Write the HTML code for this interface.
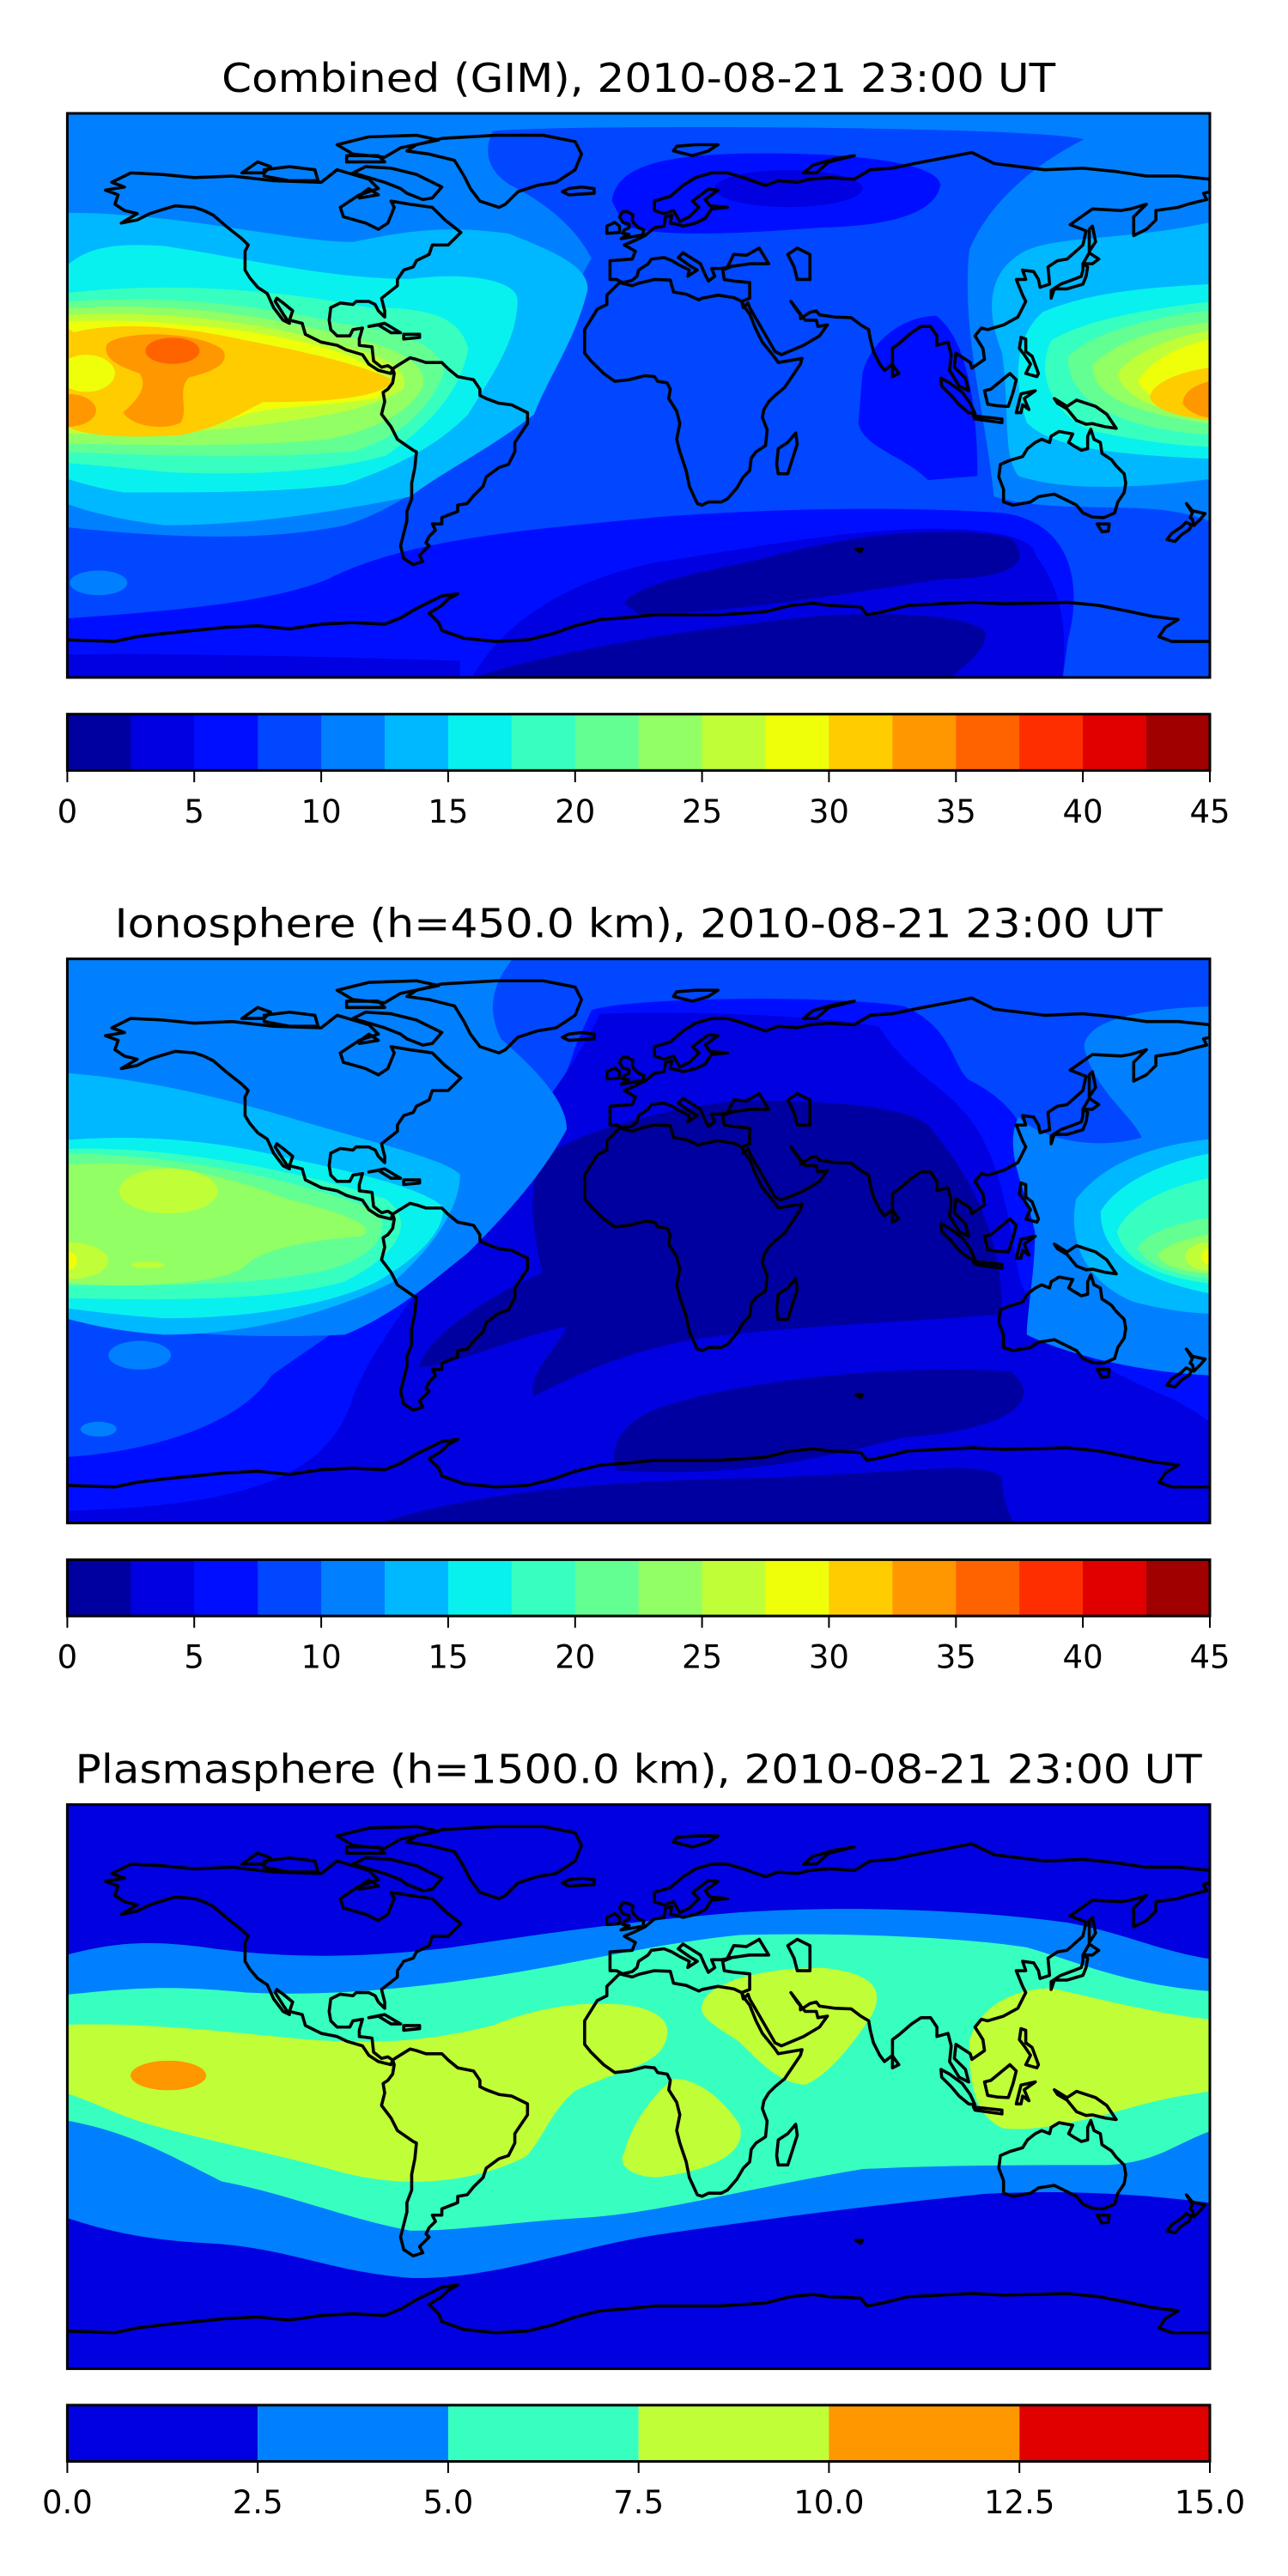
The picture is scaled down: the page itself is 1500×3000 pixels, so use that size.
<!DOCTYPE html>
<html><head><meta charset="utf-8"><style>
html,body{margin:0;padding:0;background:#fff;}
svg{display:block;}
text{font-family:"DejaVu Sans","Liberation Sans",sans-serif;fill:#000;}
</style></head><body>
<svg width="1500" height="3000" viewBox="0 0 1500 3000" xmlns="http://www.w3.org/2000/svg">
<defs>
<clipPath id="c1"><rect x="78.4" y="132" width="1330.6" height="657"/></clipPath>
<clipPath id="c2"><rect x="78.4" y="1116.7" width="1330.6" height="657"/></clipPath>
<clipPath id="c3"><rect x="78.4" y="2101.6" width="1330.6" height="657"/></clipPath>
<g id="coast" fill="none" stroke="#000" stroke-width="3.6" stroke-linejoin="round" vector-effect="non-scaling-stroke">
<polygon vector-effect="non-scaling-stroke" points="-166,68 -160,71 -150,70.5 -140,69.5 -128,70 -115,68.5 -100,68 -95,72 -85,69 -82,66 -88,64 -94,60 -93,57 -86,55 -82,53 -79,55 -77,60 -78,62 -72,61 -65,60 -61,56 -56,52 -60,48 -65,48 -66,45 -70,43 -71,41 -74,40 -76,37 -76,35 -81,31 -80,27 -80,25 -82,27 -83,29 -85,30 -89,30 -90,29 -94,29.5 -97,28 -97.5,24 -97,21 -95,19 -91,19 -90,21 -87,21.5 -88,18 -88,16 -84,15.5 -83.5,11 -81,9 -79,9.5 -77.5,8.5 -78,7 -80,7.5 -82,8 -85,10 -87,13 -92,14.5 -95,16 -100,17 -105,19.5 -106,23 -110,24 -109,27 -112,29.5 -114,31 -114.5,30 -112,26 -110,23 -112,24 -115,28 -117,32.5 -120,34.5 -122.5,37.5 -124,40 -124,46 -123,48 -125,50 -130,54 -134,57.5 -137,59 -140,60 -146,60.5 -151,59 -154,58 -158,56 -163,55 -158,58 -162,59 -165,61 -164,64 -168,65.5 -162,66.5"/>
<polygon vector-effect="non-scaling-stroke" points="-77.5,8.5 -76,9.5 -72,12 -70,11.5 -67,10.5 -62,10.5 -60,8.5 -57,6 -52,5 -50,2 -50,0 -48,-1 -44,-2.5 -40,-3 -35,-5.5 -35,-9 -37,-12 -39,-15 -39,-18 -41,-22 -44,-23 -48,-26 -49,-29 -52,-32 -54,-34.5 -57,-35 -57,-37 -62,-39 -62,-41 -65,-41 -64,-43 -66,-45 -67,-47 -66,-48 -69,-51 -68,-53 -71,-54 -74,-52 -75,-48 -74,-44 -73,-40 -73,-37 -71.5,-33 -71.5,-28 -70.5,-23 -70,-18 -71,-17.5 -76,-14 -78,-10 -81,-6 -80,-2 -80.5,1 -79,2 -77.5,4 -77,7"/>
<polygon vector-effect="non-scaling-stroke" points="-44,60 -50,62 -53,66 -55,70 -58,75 -66,77 -73,78 -70,80 -62,82 -45,83 -30,83 -20,81 -18,77 -20,72 -23,70 -26,68 -32,67 -38,65 -42,61"/>
<polygon vector-effect="non-scaling-stroke" points="-22,64 -14,64.5 -14,66 -18,66.5 -22,66 -24,65"/>
<polygon vector-effect="non-scaling-stroke" points="-65,63 -62,66.5 -67,69 -70,70.5 -78,72.5 -86,73 -90,71 -85,69.5 -80,68 -75,66 -73,64.5 -68,62.5"/>
<polygon vector-effect="non-scaling-stroke" points="-118,70 -110,68.5 -101,68.5 -102,72 -110,73 -118,72"/>
<polygon vector-effect="non-scaling-stroke" points="-80,76 -90,77 -95,80 -85,82.5 -70,83 -63,81.5 -75,79"/>
<polygon vector-effect="non-scaling-stroke" points="-125,71 -120,74.5 -116,73 -118,71"/>
<polygon vector-effect="non-scaling-stroke" points="-80,74.5 -92,74.5 -92,76.5 -82,76.5"/>
<polygon vector-effect="non-scaling-stroke" points="-88,63 -82,64 -85,66 -87,64.5"/>
<polygon vector-effect="non-scaling-stroke" points="-85,22 -80,23 -75,20 -78,20 -82,22.5"/>
<polygon vector-effect="non-scaling-stroke" points="-74,19.5 -69,19.5 -69,18.5 -74,18"/>
<polygon vector-effect="non-scaling-stroke" points="-9,37 -9,43 -2,43.5 -1,46 -4.5,48 -1,49.5 2,51 5,53.5 8,54 8.5,57 10.5,57.5 10,55 12.5,54.5 14,54 18,55 21,56.5 23,59.5 28,60 22.5,60.5 21,62.5 25,65.5 22,65.8 17,62 19,60 16,57 13,55.5 11,59 8,58 5,59 5,62 10,63.5 14,67 18,69.5 23,71 28,71 33,69.5 40,67 44,68.5 50,68 54,69 60,69.5 68,69 73,72 80,72.5 87,74 100,76.5 105,77.5 112,74 120,73 128,72 140,72.5 150,71.5 160,70 170,70 180,69 180,65 178,64.5 179,62.5 173,61 170,60 163,59 163,56 160,53 156,51 156,57 160,61 155,59.5 152,59 143,59.5 136,54.5 141,52.5 140,48 135,43.5 132,43 129,41 129.5,35.5 126.5,34.5 126,37 124.5,39.5 121,40 122,37 119,37 121,32 122,30 119.5,25 115,22.5 110,21 108,21.5 106,19 108.5,15 109,11.5 105,8.7 104.5,10.5 100,13.5 99.5,9 103,5.5 104,1.5 101,3 98,8 98.5,13 97.5,17 94,16 94,19 92,22 89,22 86,20 82,16.5 80,15 80,10 77.5,8 76,10 74,14 73,18 72.5,21 70,22.5 67,24.8 62,25 57,25.7 56,27 54,26.5 51,24.5 51,26 48,30 50,27 52.5,24 56,24 56.5,22 59.5,22.5 57,19 52,16 45,13 43,14 39,21 35,28 34.5,29.5 33,28 32.5,30 35,31 35,36 30,36.5 27,37 26.5,40 29,41 26,40.5 23,40.5 24,38 22,36.5 21,38.5 19.5,42 14,45.5 12.5,44 16,41.5 18.5,40 15.5,38 16,40 13,41.5 10.5,43 8,44 4,43.5 3,42 0,40 -0.5,38 -2,36.7 -5,36 -7,37"/>
<polygon vector-effect="non-scaling-stroke" points="28,41 30,45 34,44.7 38,47 41,42 35,42"/>
<polygon vector-effect="non-scaling-stroke" points="47,45 50,47 54,45 54,37 50,37 49,41"/>
<polygon vector-effect="non-scaling-stroke" points="-6,36 -10,32 -10,29 -13,27.5 -17,21 -17,15 -17,13.5 -15,11 -13,9 -11,7 -7.5,4.5 -3,5 2,6.3 5,6 6,4.5 9,4 10,2 9.5,-1 12,-5 13,-9 12,-14 13,-18 15,-24 16,-29 18.5,-34.5 20,-35 22,-34 26,-34 28,-33 31,-29.5 33,-26 35,-24 35.5,-20 37,-18 40,-16 40.5,-11 39,-7 39.5,-4.5 41,-2 43,0 46,2.5 51,10 51.5,11.8 44,10.5 43,12 39,17 37,21 35,26 33.5,28 32.5,30 30,31.2 25,32 20,31 19,30.5 15,32.3 11,33 10,36.8 5,37 0,35.8 -2,35"/>
<polygon vector-effect="non-scaling-stroke" points="44,-25 47,-25 50,-15.5 49.5,-12 47,-15 44,-17 43.5,-22"/>
<polygon vector-effect="non-scaling-stroke" points="80,6 82,7 80,9.8"/>
<polygon vector-effect="non-scaling-stroke" points="130,31 131,34 135,34 140,35.5 141,38 141.5,41 140,42 140,40 139.5,38 137,37 133,35.5 130,33.5"/>
<polygon vector-effect="non-scaling-stroke" points="140,42 143,42 145,43.5 142,45.5"/>
<polygon vector-effect="non-scaling-stroke" points="142,46 144,49 143,54 142,53"/>
<polygon vector-effect="non-scaling-stroke" points="120.5,18.5 122,18 122,14 124,12.5 126,7 125.5,6 122,7 123.5,10 121.5,13 120,15"/>
<polygon vector-effect="non-scaling-stroke" points="109,1.5 111,2 114,4.5 117,7 119,5 118,1 116.5,-3.5 113,-3.3 110,-2.8"/>
<polygon vector-effect="non-scaling-stroke" points="95.3,5.5 98,4 102,1 104.5,-2.5 106,-5.8 104,-5.5 101,-3 98.5,0 95.5,3"/>
<polygon vector-effect="non-scaling-stroke" points="105.5,-6.5 114.5,-7.5 114.5,-8.7 106,-7.5"/>
<polygon vector-effect="non-scaling-stroke" points="119,-5.5 120.5,0.5 125,1.5 121.5,-1 123,-4.5 121,-3 120.5,-5.5"/>
<polygon vector-effect="non-scaling-stroke" points="131,-1 135,-3.5 138,-1.5 144,-3.5 147.5,-6 150.5,-10.5 147,-10 143,-9 141,-9.2 138,-8 135,-4.3 132,-2.5"/>
<polygon vector-effect="non-scaling-stroke" points="114,-22 113.5,-26 115,-30 115,-34 118,-35 123.5,-34 126,-32.3 131,-31.5 135,-33.5 138,-35 140,-37.5 143,-38.8 146.5,-39 150,-37.5 151,-34 153,-31 153.5,-28 153,-25 150.5,-22.5 149,-20.5 146,-18.5 145.5,-15 143.5,-14 142.5,-10.8 141.5,-13 141.5,-17 139.5,-17.5 137,-16 135.5,-15 136.8,-12.3 132.5,-11.5 130,-13 129.5,-15 127,-14 125,-15 122.5,-17 121,-19.5 117,-20.7"/>
<polygon vector-effect="non-scaling-stroke" points="144.5,-41 148.3,-41 148,-43.3 146,-43.5"/>
<polygon vector-effect="non-scaling-stroke" points="172.6,-34.5 174.5,-36.8 178.5,-37.7 177,-39.5 175,-41.5 174.5,-39.5 173.8,-39 174.5,-37.5"/>
<polygon vector-effect="non-scaling-stroke" points="172.5,-40.5 174.3,-41.3 173.5,-42.8 171,-44.5 169,-46.6 166.5,-46 168,-44 171,-42"/>
<polygon vector-effect="non-scaling-stroke" points="-5.5,50 1.3,51.2 1.7,52.8 0,53.5 -1.5,55 -2,56 -1.8,57.6 -3.5,58.6 -5,58.6 -6,57 -5,55.2 -3,54.7 -3,53.5 -4.5,52.8 -5,51.7 -3,51.4"/>
<polygon vector-effect="non-scaling-stroke" points="-6,52 -6,54 -7.5,55.2 -10,54 -10,51.7"/>
<polygon vector-effect="non-scaling-stroke" points="11,78 17,76.5 22,78 25,80 18,80 12,79.5"/>
<polygon vector-effect="non-scaling-stroke" points="52,71 56,71 60,74.5 68,76.5 62,75.5 55,73.5"/>
<polygon vector-effect="non-scaling-stroke" points="68.5,-49 70.5,-49 70,-50"/>
<polyline vector-effect="non-scaling-stroke" points="-180,-78 -165,-78.5 -158,-77 -150,-76 -140,-75 -130,-74 -120,-73.5 -110,-74.5 -100,-73 -90,-72.5 -80,-73 -75,-71 -70,-68 -66,-66 -62,-64 -57,-63.3 -60,-65 -62,-67 -66,-69.5 -63,-72.5 -62,-75 -55,-77.5 -45,-78.5 -35,-78 -27,-76 -20,-73.5 -12,-71.5 -5,-71 5,-70 15,-70 25,-70 33,-69.5 40,-69 48,-67 55,-66.3 60,-67 70,-67.5 72,-70 77,-69 85,-67 95,-66.5 105,-66 115,-66.5 125,-66.3 135,-66 145,-67 155,-69 162,-70.5 170,-71.5 166,-74 164,-77 168,-78.5 180,-78.5"/>
</g>
</defs>

<!-- ============ PANEL 1 ============ -->
<text x="743.7" y="107" font-size="46" text-anchor="middle" textLength="971" lengthAdjust="spacingAndGlyphs">Combined (GIM), 2010-08-21 23:00 UT</text>
<g clip-path="url(#c1)">
<g transform="translate(0,100) scale(0.9566,0.4783)">
<rect x="0" y="0" width="1600" height="1600" fill="#0080ff"/>
<path fill="#0047ff" d="M600,110 C650,95 1250,95 1320,130 C1250,200 1200,300 1180,400 C1170,600 1200,800 1210,1000 C1300,1050 1400,1000 1473,1060 L1500,1500 L60,1500 L60,1070 C150,1090 300,1120 420,1070 C500,1020 560,900 620,840 C660,700 680,560 720,420 C700,340 660,280 620,240 C590,200 590,150 600,110 Z"/>
<ellipse cx="120" cy="1210" rx="35" ry="30" fill="#0080ff"/>
<path fill="#000eff" d="M745,280 C750,200 800,170 900,165 C1050,160 1140,190 1145,240 C1140,300 1100,340 1000,345 C900,360 800,370 760,340 Z"/>
<path fill="#000eff" d="M1050,700 C1060,620 1100,560 1140,560 C1180,620 1190,800 1190,950 L1130,960 C1100,900 1050,880 1045,820 Z"/>
<path fill="#000eff" d="M60,1300 C200,1280 330,1260 400,1200 C500,1100 650,1080 800,1050 C1000,1020 1150,1030 1220,1040 C1300,1060 1320,1200 1300,1350 L1290,1500 L60,1500 Z"/>
<ellipse cx="960" cy="250" rx="90" ry="45" fill="#0000e0"/>
<path fill="#0000e0" d="M560,1500 C600,1300 700,1200 800,1160 C900,1130 1000,1090 1100,1080 C1200,1070 1260,1100 1260,1140 C1300,1250 1300,1350 1290,1500 Z"/>
<path fill="#0000e0" d="M60,1385 C200,1380 400,1390 560,1400 L560,1500 L60,1500 Z"/>
<path fill="#0000a0" d="M760,1260 C780,1200 900,1170 950,1140 C1050,1090 1150,1070 1230,1100 C1260,1160 1230,1200 1150,1200 C1050,1230 900,1280 780,1290 Z"/>
<path fill="#0000a0" d="M500,1500 C600,1400 800,1330 1000,1290 C1100,1280 1180,1290 1200,1330 C1200,1400 1150,1430 1130,1500 Z"/>
<path fill="#00b8ff" d="M60,310 C200,300 350,380 430,380 C500,350 550,340 620,360 C670,400 720,440 715,500 C700,620 670,700 650,800 C600,880 530,950 500,1000 C400,1040 300,1070 200,1070 C120,1050 82,1020 60,1000 Z"/>
<path fill="#09f1ee" d="M60,480 C95,400 120,380 200,390 C300,420 400,470 500,470 C580,450 630,480 630,520 C630,620 600,700 570,800 C530,880 480,930 420,970 C350,990 250,990 150,990 C120,980 82,960 60,940 Z"/>
<path fill="#37ffc0" d="M60,510 C200,470 350,500 450,540 C520,540 560,560 570,640 C560,750 520,830 470,900 C400,940 300,950 200,940 C150,930 100,920 60,915 Z"/>
<path fill="#64ff92" d="M60,530 C200,500 330,540 420,580 C500,600 540,640 540,700 C520,800 480,860 430,890 C300,910 200,900 60,890 Z"/>
<path fill="#92ff64" d="M60,545 C200,520 330,560 420,610 C490,640 520,680 515,730 C500,800 450,840 400,860 C300,880 200,875 60,870 Z"/>
<path fill="#c0ff37" d="M60,560 C200,540 330,580 410,630 C480,660 500,700 490,740 C450,790 380,810 300,830 C200,850 120,850 60,845 Z"/>
<path fill="#eeff09" d="M60,575 C200,560 330,600 400,640 C460,680 480,720 460,760 C400,780 330,780 300,800 C250,840 150,840 60,830 Z"/>
<path fill="#ffcc00" d="M90,600 C130,580 200,575 300,620 C380,650 460,690 480,720 C460,760 400,770 320,770 C290,800 270,830 220,850 C150,860 100,850 82,830 L82,590 Z"/>
<ellipse cx="105" cy="700" rx="35" ry="45" fill="#eeff09"/>
<path fill="#ff9700" d="M130,630 C140,600 230,590 270,640 C285,680 250,700 230,710 C215,740 230,790 220,820 C200,840 160,830 150,795 C170,760 180,730 170,700 C140,680 125,660 130,630 Z"/>
<ellipse cx="82" cy="790" rx="35" ry="40" fill="#ff9700"/>
<ellipse cx="210" cy="645" rx="33" ry="32" fill="#ff6300"/>
<path fill="#00b8ff" d="M1500,320 C1380,380 1300,360 1250,400 C1200,450 1200,550 1220,650 C1230,800 1220,900 1240,950 C1300,990 1400,980 1500,950 Z"/>
<path fill="#09f1ee" d="M1500,480 C1400,490 1330,500 1270,550 C1240,600 1230,700 1250,820 C1280,880 1350,900 1500,910 Z"/>
<path fill="#37ffc0" d="M1500,520 C1400,540 1320,570 1280,620 C1260,700 1280,800 1330,840 C1400,870 1450,880 1500,880 Z"/>
<path fill="#64ff92" d="M1500,540 C1400,560 1330,600 1300,660 C1300,750 1340,800 1400,830 C1440,845 1460,850 1500,850 Z"/>
<path fill="#92ff64" d="M1500,570 C1420,580 1360,620 1330,680 C1330,760 1380,800 1500,830 Z"/>
<path fill="#c0ff37" d="M1500,590 C1430,600 1380,650 1360,700 C1370,770 1420,800 1500,815 Z"/>
<path fill="#eeff09" d="M1500,610 C1440,620 1400,670 1385,720 C1400,770 1440,800 1500,810 Z"/>
<path fill="#ffcc00" d="M1500,680 C1430,690 1400,730 1400,760 C1410,800 1450,810 1500,820 Z"/>
<path fill="#ff9700" d="M1500,710 C1450,720 1440,750 1440,775 C1450,800 1465,810 1500,815 Z"/>
</g>
<g transform="translate(743.7,460.5) scale(3.696,-3.65)"><use href="#coast"/></g>
</g>
<rect x="78.4" y="132" width="1330.6" height="657" fill="none" stroke="#000" stroke-width="3"/>

<g>
<rect x="78.4" y="831.7" width="74.4" height="65.6" fill="#0000a0"/>
<rect x="152.3" y="831.7" width="74.4" height="65.6" fill="#0000e0"/>
<rect x="226.2" y="831.7" width="74.4" height="65.6" fill="#000eff"/>
<rect x="300.2" y="831.7" width="74.4" height="65.6" fill="#0047ff"/>
<rect x="374.1" y="831.7" width="74.4" height="65.6" fill="#0080ff"/>
<rect x="448.0" y="831.7" width="74.4" height="65.6" fill="#00b8ff"/>
<rect x="521.9" y="831.7" width="74.4" height="65.6" fill="#09f1ee"/>
<rect x="595.8" y="831.7" width="74.4" height="65.6" fill="#37ffc0"/>
<rect x="669.8" y="831.7" width="74.4" height="65.6" fill="#64ff92"/>
<rect x="743.7" y="831.7" width="74.4" height="65.6" fill="#92ff64"/>
<rect x="817.6" y="831.7" width="74.4" height="65.6" fill="#c0ff37"/>
<rect x="891.5" y="831.7" width="74.4" height="65.6" fill="#eeff09"/>
<rect x="965.4" y="831.7" width="74.4" height="65.6" fill="#ffcc00"/>
<rect x="1039.4" y="831.7" width="74.4" height="65.6" fill="#ff9700"/>
<rect x="1113.3" y="831.7" width="74.4" height="65.6" fill="#ff6300"/>
<rect x="1187.2" y="831.7" width="74.4" height="65.6" fill="#ff2e00"/>
<rect x="1261.1" y="831.7" width="74.4" height="65.6" fill="#e00000"/>
<rect x="1335.0" y="831.7" width="74.0" height="65.6" fill="#a00000"/>
<rect x="78.4" y="831.7" width="1330.6" height="65.6" fill="none" stroke="#000" stroke-width="3"/>
<g stroke="#000" stroke-width="2">
<line x1="78.4" y1="897" x2="78.4" y2="911"/><line x1="226.2" y1="897" x2="226.2" y2="911"/><line x1="374.1" y1="897" x2="374.1" y2="911"/><line x1="521.9" y1="897" x2="521.9" y2="911"/><line x1="669.8" y1="897" x2="669.8" y2="911"/><line x1="817.6" y1="897" x2="817.6" y2="911"/><line x1="965.4" y1="897" x2="965.4" y2="911"/><line x1="1113.3" y1="897" x2="1113.3" y2="911"/><line x1="1261.1" y1="897" x2="1261.1" y2="911"/><line x1="1409" y1="897" x2="1409" y2="911"/>
</g>
<g font-size="37" text-anchor="middle">
<text x="78.4" y="958">0</text><text x="226.2" y="958">5</text><text x="374.1" y="958">10</text><text x="521.9" y="958">15</text><text x="669.8" y="958">20</text><text x="817.6" y="958">25</text><text x="965.4" y="958">30</text><text x="1113.3" y="958">35</text><text x="1261.1" y="958">40</text><text x="1409" y="958">45</text>
</g>
</g>

<!-- ============ PANEL 2 ============ -->
<text x="743.7" y="1091.7" font-size="46" text-anchor="middle" textLength="1220" lengthAdjust="spacingAndGlyphs">Ionosphere  (h=450.0 km), 2010-08-21 23:00 UT</text>
<g clip-path="url(#c2)">
<g transform="translate(0,1100) scale(0.9566,0.4783)">
<rect x="0" y="0" width="1600" height="1600" fill="#0047ff"/>
<path fill="#000eff" d="M720,160 C760,130 1000,120 1100,150 C1160,200 1160,300 1180,330 C1250,400 1260,500 1260,600 C1250,700 1280,800 1300,900 C1350,1000 1473,1050 1500,1050 L1500,1500 L60,1500 L60,1250 C200,1240 300,1150 330,1050 C400,950 480,850 530,760 C600,600 680,400 700,250 Z"/>
<path fill="#0000e0" d="M730,170 C800,160 1000,170 1070,200 C1100,300 1150,350 1170,400 C1220,500 1230,700 1240,800 C1250,900 1300,1000 1420,1100 C1473,1150 1500,1200 1500,1260 L1500,1500 L60,1500 L60,1380 C300,1370 400,1300 430,1100 C470,900 580,700 600,550 C650,420 700,300 730,170 Z"/>
<path fill="#0000a0" d="M660,520 C700,460 800,400 900,380 C1000,380 1100,390 1130,440 C1180,560 1220,700 1220,900 C1100,920 950,930 850,960 C760,990 700,1050 650,1100 C640,1050 680,980 690,930 C620,960 560,1020 510,1030 C520,950 600,850 660,800 C650,700 640,600 660,520 Z"/>
<path fill="#0000a0" d="M800,1130 C900,1060 1100,1020 1230,1040 C1270,1100 1240,1180 1100,1200 C1000,1250 900,1300 750,1280 C740,1220 760,1160 800,1130 Z"/>
<path fill="#0000a0" d="M350,1500 C500,1340 700,1310 900,1300 C1100,1290 1200,1250 1220,1300 C1220,1360 1230,1400 1260,1500 Z"/>
<path fill="#0080ff" d="M60,0 L640,0 C600,80 590,150 610,230 C650,300 690,380 690,450 C660,560 620,650 570,750 C520,830 480,900 420,950 C300,960 200,950 60,900 Z"/>
<ellipse cx="170" cy="1000" rx="38" ry="35" fill="#0080ff"/>
<ellipse cx="120" cy="1180" rx="22" ry="18" fill="#0080ff"/>
<path fill="#00b8ff" d="M60,310 C150,320 250,360 350,420 C450,480 540,520 560,560 C560,650 520,750 480,820 C400,900 300,950 200,950 C130,940 100,920 60,900 Z"/>
<path fill="#09f1ee" d="M60,480 C150,460 250,470 350,520 C450,560 520,600 540,640 C540,700 510,760 460,820 C400,880 300,910 200,910 C130,900 100,890 60,880 Z"/>
<path fill="#37ffc0" d="M60,500 C200,480 380,560 470,620 C510,680 480,760 420,820 C350,860 250,870 60,860 Z"/>
<path fill="#64ff92" d="M60,510 C200,500 380,580 460,650 C480,720 440,780 380,800 C300,830 200,830 60,830 Z"/>
<path fill="#92ff64" d="M60,540 C150,520 250,540 350,620 C430,660 460,690 440,710 C380,720 320,740 300,780 C280,820 200,830 150,830 C110,830 90,825 60,820 Z"/>
<ellipse cx="205" cy="600" rx="60" ry="55" fill="#c0ff37"/>
<ellipse cx="82" cy="770" rx="50" ry="45" fill="#c0ff37"/>
<ellipse cx="180" cy="780" rx="20" ry="8" fill="#c0ff37"/>
<ellipse cx="82" cy="770" rx="12" ry="22" fill="#eeff09"/>
<path fill="#0080ff" d="M1500,150 C1400,150 1320,180 1320,250 C1330,350 1380,420 1390,470 C1340,500 1270,480 1240,420 C1220,500 1250,600 1260,700 C1260,800 1250,900 1250,950 C1300,1000 1400,1050 1500,1050 Z"/>
<path fill="#00b8ff" d="M1500,470 C1400,480 1340,540 1310,620 C1300,720 1320,820 1380,870 C1420,890 1450,900 1500,900 Z"/>
<path fill="#09f1ee" d="M1500,500 C1420,520 1360,580 1340,650 C1340,750 1380,820 1500,860 Z"/>
<path fill="#37ffc0" d="M1500,560 C1420,580 1370,640 1360,700 C1370,780 1420,820 1500,830 Z"/>
<path fill="#64ff92" d="M1500,660 C1430,670 1390,710 1385,740 C1400,790 1440,810 1500,820 Z"/>
<path fill="#92ff64" d="M1500,700 C1440,710 1410,740 1410,760 C1420,790 1450,800 1500,805 Z"/>
<ellipse cx="1473" cy="760" rx="30" ry="35" fill="#c0ff37"/>
<ellipse cx="1473" cy="760" rx="10" ry="20" fill="#eeff09"/>
</g>
<g transform="translate(743.7,1445.2) scale(3.696,-3.65)"><use href="#coast"/></g>
</g>
<rect x="78.4" y="1116.7" width="1330.6" height="657" fill="none" stroke="#000" stroke-width="3"/>

<g transform="translate(0,984.7)">
<rect x="78.4" y="831.7" width="74.4" height="65.6" fill="#0000a0"/>
<rect x="152.3" y="831.7" width="74.4" height="65.6" fill="#0000e0"/>
<rect x="226.2" y="831.7" width="74.4" height="65.6" fill="#000eff"/>
<rect x="300.2" y="831.7" width="74.4" height="65.6" fill="#0047ff"/>
<rect x="374.1" y="831.7" width="74.4" height="65.6" fill="#0080ff"/>
<rect x="448.0" y="831.7" width="74.4" height="65.6" fill="#00b8ff"/>
<rect x="521.9" y="831.7" width="74.4" height="65.6" fill="#09f1ee"/>
<rect x="595.8" y="831.7" width="74.4" height="65.6" fill="#37ffc0"/>
<rect x="669.8" y="831.7" width="74.4" height="65.6" fill="#64ff92"/>
<rect x="743.7" y="831.7" width="74.4" height="65.6" fill="#92ff64"/>
<rect x="817.6" y="831.7" width="74.4" height="65.6" fill="#c0ff37"/>
<rect x="891.5" y="831.7" width="74.4" height="65.6" fill="#eeff09"/>
<rect x="965.4" y="831.7" width="74.4" height="65.6" fill="#ffcc00"/>
<rect x="1039.4" y="831.7" width="74.4" height="65.6" fill="#ff9700"/>
<rect x="1113.3" y="831.7" width="74.4" height="65.6" fill="#ff6300"/>
<rect x="1187.2" y="831.7" width="74.4" height="65.6" fill="#ff2e00"/>
<rect x="1261.1" y="831.7" width="74.4" height="65.6" fill="#e00000"/>
<rect x="1335.0" y="831.7" width="74.0" height="65.6" fill="#a00000"/>
<rect x="78.4" y="831.7" width="1330.6" height="65.6" fill="none" stroke="#000" stroke-width="3"/>
<g stroke="#000" stroke-width="2">
<line x1="78.4" y1="897" x2="78.4" y2="911"/><line x1="226.2" y1="897" x2="226.2" y2="911"/><line x1="374.1" y1="897" x2="374.1" y2="911"/><line x1="521.9" y1="897" x2="521.9" y2="911"/><line x1="669.8" y1="897" x2="669.8" y2="911"/><line x1="817.6" y1="897" x2="817.6" y2="911"/><line x1="965.4" y1="897" x2="965.4" y2="911"/><line x1="1113.3" y1="897" x2="1113.3" y2="911"/><line x1="1261.1" y1="897" x2="1261.1" y2="911"/><line x1="1409" y1="897" x2="1409" y2="911"/>
</g>
<g font-size="37" text-anchor="middle">
<text x="78.4" y="958">0</text><text x="226.2" y="958">5</text><text x="374.1" y="958">10</text><text x="521.9" y="958">15</text><text x="669.8" y="958">20</text><text x="817.6" y="958">25</text><text x="965.4" y="958">30</text><text x="1113.3" y="958">35</text><text x="1261.1" y="958">40</text><text x="1409" y="958">45</text>
</g>
</g>

<!-- ============ PANEL 3 ============ -->
<text x="743.7" y="2076.7" font-size="46" text-anchor="middle" textLength="1312" lengthAdjust="spacingAndGlyphs">Plasmasphere (h=1500.0 km), 2010-08-21 23:00 UT</text>
<g clip-path="url(#c3)">
<g transform="translate(0,2110) scale(0.9566,0.4783)">
<rect x="0" y="-100" width="1600" height="1600" fill="#0000e0"/>
<path fill="#0080ff" d="M60,360 C130,320 170,310 250,330 C350,360 450,355 550,330 C650,300 750,270 900,245 C1000,232 1150,230 1300,270 C1380,300 1420,350 1500,365 L1500,960 C1400,930 1300,920 1200,930 C1050,960 900,1000 800,1030 C700,1060 600,1140 500,1135 C400,1120 350,1060 250,1050 C150,1040 100,1000 60,975 Z"/>
<path fill="#37ffc0" d="M60,450 C150,430 200,420 300,440 C400,450 500,430 600,400 C700,370 800,320 900,300 C1000,295 1150,300 1250,330 C1320,370 1380,430 1500,440 L1500,760 C1430,800 1420,850 1350,860 C1250,860 1150,860 1050,870 C900,920 800,980 700,990 C620,1000 560,1020 500,1020 C420,990 350,930 270,900 C200,830 150,770 60,745 Z"/>
<path fill="#c0ff37" d="M60,520 C150,510 250,530 350,550 C450,570 520,560 600,520 C650,480 700,460 760,470 C800,480 820,510 810,560 C800,620 750,630 700,680 C670,730 660,800 640,840 C580,900 500,920 420,880 C350,840 250,800 180,760 C130,730 100,690 60,675 Z"/>
<path fill="#c0ff37" d="M760,830 C770,750 800,680 820,650 C850,650 880,700 900,760 C910,820 880,870 800,890 C770,890 750,860 760,830 Z"/>
<path fill="#c0ff37" d="M855,470 C860,420 920,380 1000,380 C1060,390 1080,430 1060,500 C1040,560 1010,640 980,665 C950,660 930,620 900,560 C870,520 850,500 855,470 Z"/>
<path fill="#c0ff37" d="M1180,560 C1190,480 1230,430 1280,430 C1350,460 1420,500 1500,510 L1500,675 C1420,690 1380,720 1340,740 C1300,760 1250,780 1220,770 C1190,740 1180,680 1180,560 Z"/>
<ellipse cx="205" cy="642" rx="46" ry="36" fill="#ff9700"/>
</g>
<g transform="translate(743.7,2430.1) scale(3.696,-3.65)"><use href="#coast"/></g>
</g>
<rect x="78.4" y="2101.6" width="1330.6" height="657" fill="none" stroke="#000" stroke-width="3"/>

<g>
<rect x="78.4" y="2801" width="221.8" height="65.6" fill="#0000e0"/>
<rect x="300.2" y="2801" width="221.8" height="65.6" fill="#0080ff"/>
<rect x="521.9" y="2801" width="221.8" height="65.6" fill="#37ffc0"/>
<rect x="743.7" y="2801" width="221.8" height="65.6" fill="#c0ff37"/>
<rect x="965.4" y="2801" width="221.8" height="65.6" fill="#ff9700"/>
<rect x="1187.2" y="2801" width="221.8" height="65.6" fill="#e00000"/>
<rect x="78.4" y="2801" width="1330.6" height="65.6" fill="none" stroke="#000" stroke-width="3"/>
<g stroke="#000" stroke-width="2">
<line x1="78.4" y1="2866" x2="78.4" y2="2880"/><line x1="300.2" y1="2866" x2="300.2" y2="2880"/><line x1="521.9" y1="2866" x2="521.9" y2="2880"/><line x1="743.7" y1="2866" x2="743.7" y2="2880"/><line x1="965.4" y1="2866" x2="965.4" y2="2880"/><line x1="1187.2" y1="2866" x2="1187.2" y2="2880"/><line x1="1409" y1="2866" x2="1409" y2="2880"/>
</g>
<g font-size="37" text-anchor="middle">
<text x="78.4" y="2927">0.0</text><text x="300.2" y="2927">2.5</text><text x="521.9" y="2927">5.0</text><text x="743.7" y="2927">7.5</text><text x="965.4" y="2927">10.0</text><text x="1187.2" y="2927">12.5</text><text x="1409" y="2927">15.0</text>
</g>
</g>
</svg>
</body></html>
